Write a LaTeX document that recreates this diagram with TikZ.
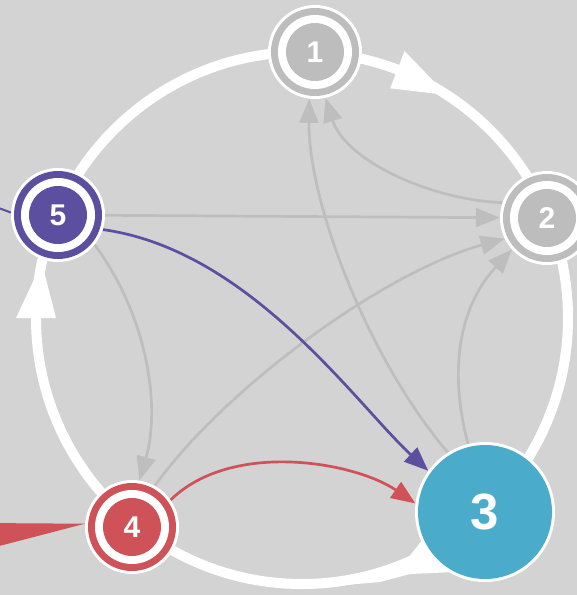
\documentclass[tikz,border=0pt]{standalone}
\usepackage{fontspec}
\setmainfont{Liberation Sans}
\usetikzlibrary{arrows.meta,calc}
\definecolor{bgc}{HTML}{D3D3D3}
\definecolor{ngray}{HTML}{BDBDBD}
\definecolor{egray}{HTML}{BEBEBE}
\definecolor{npurple}{HTML}{5C4F9F}
\definecolor{nred}{HTML}{CE5257}
\definecolor{nblue}{HTML}{4BABCB}
\tikzset{
  slot/.style={circle, minimum size=94pt, inner sep=0pt},
  bigslot/.style={circle, minimum size=140pt, inner sep=0pt},
  edgeline/.style={line width=2.7pt, -{Triangle[length=24pt,width=19pt]}},
  gedge/.style={edgeline, draw=egray},
  pedge/.style={edgeline, draw=npurple},
  redge/.style={edgeline, draw=nred},
  numtext/.style={circle, inner sep=0pt, minimum size=58pt, text=white, font=\bfseries\fontsize{30}{30}\selectfont},
  bignum/.style={text=white, font=\bfseries\fontsize{51}{51}\selectfont},
  ring/.style={draw=white, line width=10pt}
}
\newcommand\ringnode[3]{%
  \fill[white] (#1.center) circle[radius=47];
  \fill[#2] (#1.center) circle[radius=44];
  \fill[white] (#1.center) circle[radius=37];
  \node[numtext, fill=#2] (#1-label) at (#1.center) {#3};
}
\begin{document}
\begin{tikzpicture}[x=1pt,y=-1pt]
\useasboundingbox (0,0) rectangle (577,595);
\fill[bgc] (0,0) rectangle (577,595);
\clip (0,0) rectangle (577,595);
% placeholders
\node[slot] (n1) at (315,52) {};
\node[slot] (n2) at (547,218) {};
\node[bigslot] (n3) at (485,512) {};
\node[slot] (n4) at (132,527) {};
\node[slot] (n5) at (58,215) {};
\coordinate (c) at (302,318);
% ring
\draw[ring] (c) circle[radius=266];
\fill[white] ($(c)+(-69:246)$) -- ($(c)+(-69:286)$) -- ($(c)+(-57:266)$) -- cycle;
\fill[white] ($(c)+(180:246)$) -- ($(c)+(180:286)$) -- ($(c)+(192:266)$) -- cycle;
\fill[white] (345,576) -- (380,569) -- (405,562) -- (430,530) -- (455,572) -- (410,574) -- (380,582) -- (345,585) -- cycle;
% incoming links
\coordinate (in5) at (-20,201);
\draw[npurple, line width=2pt] (in5) -- (n5.177);
\coordinate (in4a) at (-20,523);
\coordinate (in4b) at (-20,551);
\fill[nred] (in4a) -- (n4.176) -- (in4b) -- cycle;
% grey edges
\draw[gedge] (n5) -- (n2);
\draw[gedge] (n2.161) .. controls (430,200) and (345,160) .. (n1.-77);
\draw[gedge] (n3.122) .. controls (366,356) and (308,200) .. (n1.-97);
\draw[gedge] (n4.61) .. controls (225,388) and (384,272) .. (n2.-154);
\draw[gedge] (n3.104) .. controls (450,376) and (456,310) .. (n2.-138);
\draw[gedge] (n5.-39) .. controls (150,320) and (160,410) .. (n4.81);
% coloured edges
\draw[pedge] (n5.-18) .. controls (250,250) and (356,404) .. (n3.144);
\draw[redge] (n4.35) .. controls (232,440) and (355,462) .. (n3.173);
% nodes
\ringnode{n1}{ngray}{1}
\ringnode{n2}{ngray}{2}
\ringnode{n4}{nred}{4}
\ringnode{n5}{npurple}{5}
\fill[white] (n3.center) circle[radius=70];
\fill[nblue] (n3.center) circle[radius=67];
\node[bignum] (n3-label) at (n3.center) {3};
\end{tikzpicture}
\end{document}
